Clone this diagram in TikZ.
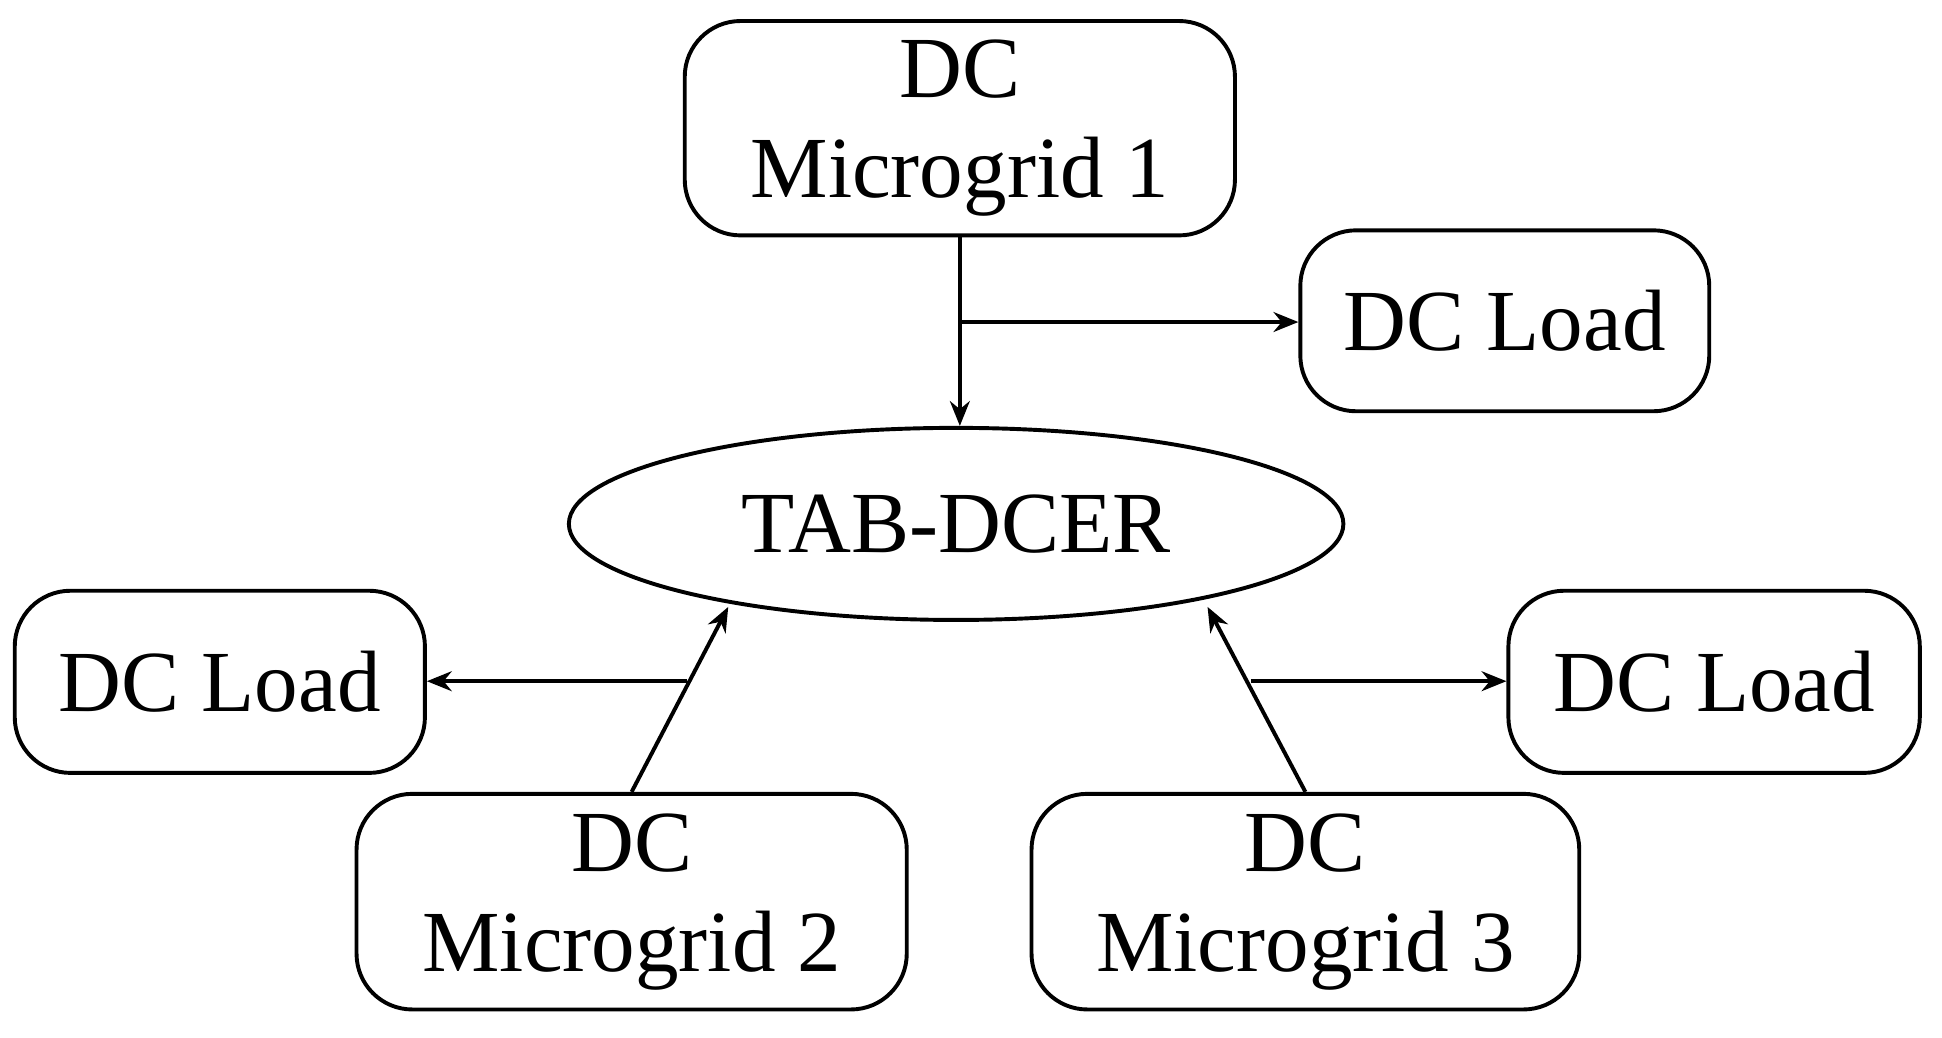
\documentclass[tikz,border=0pt]{standalone}
\usepackage{fontspec}
\setmainfont{Liberation Serif}
\usetikzlibrary{shapes.geometric,arrows.meta}
\begin{document}
\begin{tikzpicture}[x=0.01cm,y=-0.01cm,
  box/.style={draw,line width=0.9pt,rounded corners=0.45cm,inner sep=0,align=center,font=\fontsize{20}{23}\selectfont},
  arr/.style={line width=0.9pt,-{Stealth[length=0.2cm,width=0.16cm]}}]
\useasboundingbox (0,0) rectangle (1568,838);
\node[box,minimum width=4.44cm,minimum height=1.73cm] (mg1) at (775,103.5) {DC\\Microgrid 1};
\node[box,minimum width=3.3cm,minimum height=1.46cm] (lt) at (1215,259) {DC Load};
\node[draw,ellipse,line width=0.9pt,minimum width=6.25cm,minimum height=1.55cm,font=\fontsize{20}{23}\selectfont] (e) at (772,423) {TAB-DCER};
\node[box,minimum width=3.31cm,minimum height=1.47cm] (ll) at (177.5,550.5) {DC Load};
\node[box,minimum width=3.32cm,minimum height=1.47cm] (lr) at (1384,550.5) {DC Load};
\node[box,minimum width=4.44cm,minimum height=1.74cm] (mg2) at (510,728) {DC\\Microgrid 2};
\node[box,minimum width=4.42cm,minimum height=1.74cm] (mg3) at (1054,728) {DC\\Microgrid 3};
\coordinate (b1) at (775,260);
\coordinate (b2) at (555,550);
\coordinate (b3) at (1010,550);
\draw[arr] (mg1.south -| b1) -- (b1) -- (e.north -| b1);
\draw[arr] (b1) -- (lt.west |- b1);
\draw[arr] (mg2.north) -- (588,490);
\draw[arr] (b2) -- (ll.east |- b2);
\draw[arr] (mg3.north) -- (975,490);
\draw[arr] (b3) -- (lr.west |- b3);
\end{tikzpicture}
\end{document}
